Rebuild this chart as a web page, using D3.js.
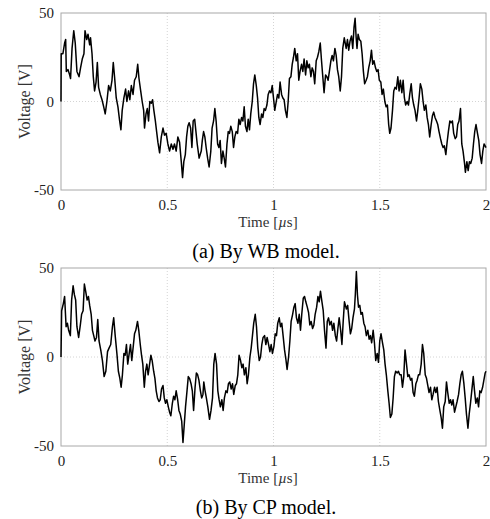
<!DOCTYPE html>
<html>
<head>
<meta charset="utf-8">
<script src="https://cdn.jsdelivr.net/npm/d3@7"></script>
<style>
  body { margin: 0; background: #fff; }
  svg text { font-family: "Liberation Serif", "DejaVu Serif", serif; }
</style>
</head>
<body>
<svg id="fig" width="490" height="519" font-family="Liberation Serif, serif"></svg>
<script>
// (a) WB model
const timeWB = [0,0.001,0.009,0.017,0.022,0.025,0.033,0.041,0.045,0.052,0.060,0.067,0.075,0.085,0.092,0.100,0.108,0.113,0.121,0.127,0.135,0.139,0.146,0.152,0.158,0.165,0.171,0.177,0.185,0.193,0.201,0.208,0.216,0.224,0.232,0.240,0.246,0.252,0.260,0.268,0.276,0.282,0.288,0.296,0.304,0.310,0.318,0.324,0.331,0.339,0.346,0.354,0.361,0.367,0.375,0.382,0.389,0.393,0.400,0.406,0.412,0.418,0.425,0.431,0.437,0.444,0.450,0.456,0.464,0.472,0.480,0.487,0.495,0.503,0.511,0.519,0.527,0.534,0.542,0.550,0.558,0.566,0.572,0.578,0.585,0.591,0.597,0.603,0.610,0.616,0.622,0.629,0.635,0.641,0.650,0.660,0.665,
  0.671,0.677,0.683,0.690,0.697,0.705,0.711,0.718,0.724,0.730,0.737,0.743,0.749,0.755,0.762,0.768,0.774,0.781,0.787,0.793,0.799,0.806,0.812,0.818,0.824,0.831,0.837,0.843,0.850,0.856,0.862,0.868,0.875,0.881,0.887,0.893,0.900,0.906,0.912,0.919,0.925,0.931,0.937,0.944,0.950,0.956,0.962,0.969,0.975,0.981,0.988,0.994,1.000,1.006,1.013,1.019,1.025,1.031,1.038,1.044,1.050,1.056,1.063,1.069,1.075,1.082,1.088,1.094,1.100,1.107,1.113,1.119,1.125,1.132,1.138,1.144,1.151,1.157,1.163,1.169,1.176,1.182,1.188,1.194,1.201,1.207,1.213,1.220,1.226,1.232,1.238,1.245,1.251,1.257,1.263,1.270,1.276,1.282,1.289,1.295,1.301,1.307,1.314,1.320,1.326,1.333,
  1.342,1.348,1.354,1.360,1.367,1.373,1.379,1.384,1.389,1.393,1.398,1.404,1.411,1.417,1.423,1.429,1.436,1.442,1.448,1.455,1.461,1.467,1.473,1.480,1.486,1.492,1.498,1.505,1.511,1.517,1.524,1.530,1.536,1.542,1.547,1.553,1.560,1.566,1.572,1.578,1.585,1.591,1.597,1.604,1.610,1.616,1.622,1.629,1.635,1.641,1.648,1.654,1.660,1.666,1.673,1.679,1.685,1.691,1.698,1.704,1.710,1.717,1.723,1.729,1.735,1.742,1.748,1.754,1.760,1.767,1.773,1.779,1.786,1.792,1.798,1.804,1.811,1.817,1.823,1.830,1.836,1.842,1.848,1.855,1.861,1.867,1.873,1.880,1.886,1.892,1.899,1.903,1.910,1.916,1.922,1.928,1.935,1.941,1.947,1.953,1.960,1.966,1.972,1.979,1.985,1.991,2.000];
const voltWB = [0,27,27,33,35,17,18,15,13,30,40,33,17,14,19,24,27,40,35,38,32,36,27,14,6,11,22,8,4,1,-3,-7,0,9,6,12,22,14,2,-3,-11,-16,-5,2,7,0,6,1,9,4,12,14,21,13,6,0,-5,-15,-7,-4,-11,0,-1,1,-5,-11,-17,-23,-29,-20,-15,-19,-18,-24,-28,-24,-27,-24,-28,-20,-23,-34,-43,-34,-30,-20,-14,-12,-15,-26,-11,-10,-17,-24,-32,-28,-22,
  -17,-20,-26,-32,-37,-28,-15,-11,-4,-11,-24,-26,-22,-35,-28,-32,-37,-24,-17,-18,-14,-17,-26,-20,-17,-18,-10,-13,-9,-11,-3,-14,-17,-10,-16,-7,0,10,15,9,2,-9,-13,-7,-9,-4,-5,-2,4,6,5,9,2,-5,0,4,2,11,4,2,1,-5,-9,0,13,14,21,25,30,23,27,12,17,21,17,24,15,23,19,21,14,19,17,10,23,25,28,33,23,14,5,15,14,12,17,23,26,23,30,26,18,14,6,14,30,36,
  30,35,29,34,37,30,42,47,36,30,38,35,34,27,17,10,12,14,19,23,29,21,23,19,17,18,12,11,4,7,0,-3,-2,-13,-18,-15,-5,6,8,7,14,6,12,5,12,2,-2,0,-2,4,10,2,-2,-5,-11,-5,2,10,7,0,-5,-2,-9,-13,-20,-13,-8,-6,-9,-11,-13,-17,-21,-24,-26,-25,-30,-23,-17,-11,-12,-11,-18,-21,-20,-13,-11,-4,-24,-28,-35,-40,-34,-39,-34,-35,-32,-24,-17,-13,-18,-22,-30,-35,-28,-24,-26];

// (b) CP model
const timeCP = [0,0.003,0.011,0.017,0.024,0.030,0.036,0.044,0.050,0.057,0.063,0.069,0.075,0.083,0.091,0.097,0.104,0.110,0.116,0.123,0.129,0.135,0.142,0.148,0.154,0.160,0.167,0.173,0.179,0.187,0.195,0.203,0.211,0.219,0.226,0.234,0.242,0.248,0.255,0.263,0.270,0.277,0.283,0.289,0.296,0.302,0.308,0.314,0.321,0.327,0.333,0.340,0.346,0.352,0.360,0.366,0.373,0.379,0.385,0.392,0.398,0.404,0.410,0.417,0.423,0.429,0.436,0.442,0.448,0.454,0.461,0.467,0.473,0.480,0.486,0.492,0.498,0.505,0.511,0.517,0.524,0.530,0.536,0.542,0.549,0.555,0.561,0.568,0.574,0.580,0.586,0.593,0.599,0.605,0.612,0.618,0.624,0.631,0.637,0.643,0.649,0.656,0.662,0.668,
  0.672,0.678,0.684,0.691,0.699,0.706,0.713,0.719,0.725,0.732,0.738,0.744,0.750,0.757,0.763,0.769,0.776,0.782,0.788,0.794,0.801,0.807,0.813,0.820,0.826,0.832,0.838,0.845,0.851,0.857,0.863,0.870,0.876,0.882,0.889,0.895,0.901,0.907,0.914,0.920,0.926,0.933,0.939,0.945,0.951,0.958,0.964,0.970,0.977,0.983,0.989,0.995,1.002,1.008,1.014,1.020,1.027,1.033,1.039,1.046,1.052,1.058,1.064,1.071,1.077,1.083,1.090,1.096,1.102,1.108,1.115,1.121,1.127,1.133,1.140,1.146,1.152,1.159,1.165,1.171,1.177,1.184,1.190,1.196,1.203,1.209,1.215,1.221,1.228,1.234,1.240,1.247,1.253,1.259,1.265,1.272,1.278,1.284,1.291,1.297,1.303,1.309,1.316,1.322,1.328,1.334,
  1.343,1.349,1.356,1.362,1.368,1.374,1.381,1.385,1.390,1.395,1.400,1.406,1.412,1.418,1.425,1.431,1.437,1.444,1.450,1.456,1.462,1.469,1.475,1.481,1.488,1.494,1.500,1.506,1.513,1.519,1.525,1.531,1.538,1.544,1.550,1.557,1.563,1.569,1.575,1.582,1.588,1.594,1.601,1.607,1.613,1.619,1.626,1.632,1.638,1.645,1.651,1.657,1.663,1.670,1.676,1.682,1.688,1.695,1.701,1.707,1.714,1.720,1.726,1.732,1.739,1.745,1.751,1.758,1.764,1.770,1.776,1.783,1.789,1.795,1.801,1.808,1.814,1.820,1.827,1.833,1.839,1.845,1.852,1.858,1.864,1.871,1.877,1.883,1.889,1.896,1.902,1.908,1.915,1.921,1.927,1.933,1.940,1.946,1.952,1.959,1.965,1.971,1.977,1.984,1.990,1.996,2.000];
const voltCP = [0,26,30,34,17,19,15,12,32,40,35,32,17,11,18,24,26,41,37,32,34,29,24,15,12,9,11,21,9,4,-2,-11,-8,3,5,7,17,22,12,2,-8,-12,-17,-10,2,1,7,-4,2,7,-2,6,13,15,20,15,7,1,-4,-17,-8,-4,-10,-4,1,-2,-8,-12,-19,-23,-25,-24,-18,-16,-23,-26,-24,-28,-31,-33,-26,-22,-24,-19,-24,-30,-32,-36,-48,-38,-28,-19,-11,-12,-15,-19,-30,-17,-9,-10,-13,-19,-23,-21,
  -14,-19,-23,-28,-35,-30,-23,-4,2,-4,-19,-24,-28,-24,-30,-23,-19,-20,-15,-14,-18,-15,-21,-16,-15,-10,1,-2,-6,-4,-10,-6,-15,-10,0,5,12,19,24,17,5,-2,0,7,11,12,7,11,7,3,7,2,6,13,12,19,22,17,19,11,4,-1,-7,0,9,20,24,28,30,22,19,24,15,24,33,34,31,28,25,18,20,16,18,24,28,34,31,37,31,26,15,5,20,22,18,20,15,19,12,9,16,22,15,7,20,31,
  27,29,20,13,16,22,27,35,48,35,28,29,24,25,19,17,12,15,10,12,8,15,8,-2,2,-3,9,13,8,4,-4,-10,-19,-26,-34,-32,-23,-11,-8,-9,-8,-10,-10,-17,-11,4,-4,-11,-10,-13,-12,-20,-22,-15,-13,-10,-10,-4,7,2,-10,-12,-16,-20,-17,-24,-21,-17,-20,-17,-25,-30,-34,-40,-28,-25,-14,-20,-26,-24,-27,-24,-31,-28,-25,-21,-15,-10,-8,-15,-23,-32,-40,-32,-26,-19,-11,-19,-26,-23,-28,-19,-20,-17,-13,-9,-8];

const xTicks = [0, 0.5, 1, 1.5, 2];
const yTicks = [-50, 0, 50];
const captions = ["(a) By WB model.", "(b) By CP model."];

const serif = '"Liberation Serif", "DejaVu Serif", serif';
const svg = d3.select("#fig");
const left = 61, right = 486;

const x = d3.scaleLinear().domain([0, 2]).range([left, right]);

function drawPanel(times, volts, top, bottom, caption) {
  const y = d3.scaleLinear().domain([-50, 50]).range([bottom, top]);
  const g = svg.append("g");

  // grid
  g.selectAll(".gx").data(xTicks.slice(1, -1)).join("line")
    .attr("x1", d => x(d)).attr("x2", d => x(d))
    .attr("y1", top).attr("y2", bottom)
    .attr("stroke", "#d4d4d4").attr("stroke-dasharray", "1,2");
  g.selectAll(".gy").data([0]).join("line")
    .attr("x1", left).attr("x2", right)
    .attr("y1", d => y(d)).attr("y2", d => y(d))
    .attr("stroke", "#d4d4d4").attr("stroke-dasharray", "1,2");

  // axes
  const xa = g.append("g").attr("transform", `translate(0,${bottom})`)
    .call(d3.axisBottom(x).tickValues(xTicks).tickSize(0).tickPadding(9).tickFormat(d => String(d)));
  const ya = g.append("g").attr("transform", `translate(${left},0)`)
    .call(d3.axisLeft(y).tickValues(yTicks).tickSize(0).tickPadding(7).tickFormat(d => String(d)));
  [xa, ya].forEach(a => {
    a.attr("font-family", serif).attr("font-size", 15);
    a.select(".domain").remove();
    a.selectAll("text").attr("fill", "#222").style("font-family", serif);
  });

  // frame
  g.append("rect").attr("x", left).attr("y", top)
    .attr("width", right - left).attr("height", bottom - top)
    .attr("fill", "none").attr("stroke", "#a8a8a8").attr("stroke-width", 1);

  // signal
  const pts = times.map((t, i) => [t, volts[i]]);
  g.append("path").datum(pts)
    .attr("fill", "none").attr("stroke", "#000").attr("stroke-width", 1.5)
    .attr("stroke-linejoin", "round")
    .attr("d", d3.line().x(d => x(d[0])).y(d => y(d[1])));

  // labels
  g.append("text")
    .attr("transform", `translate(30,${(top + bottom) / 2}) rotate(-90)`)
    .attr("text-anchor", "middle").attr("font-size", 16).attr("fill", "#333")
    .style("font-family", serif)
    .text("Voltage [V]");
  const xl = g.append("text").attr("x", 268).attr("y", bottom + 37)
    .attr("text-anchor", "middle").attr("font-size", 15).attr("fill", "#333")
    .style("font-family", serif);
  xl.append("tspan").text("Time [");
  xl.append("tspan").attr("font-style", "italic").text("\u00b5");
  xl.append("tspan").text("s]");

  g.append("text").attr("x", 266).attr("y", bottom + 68)
    .attr("text-anchor", "middle").attr("font-size", 20).attr("fill", "#000")
    .style("font-family", serif)
    .text(caption);
}

drawPanel(timeWB, voltWB, 13, 190, captions[0]);
drawPanel(timeCP, voltCP, 268, 446, captions[1]);
</script>
</body>
</html>
